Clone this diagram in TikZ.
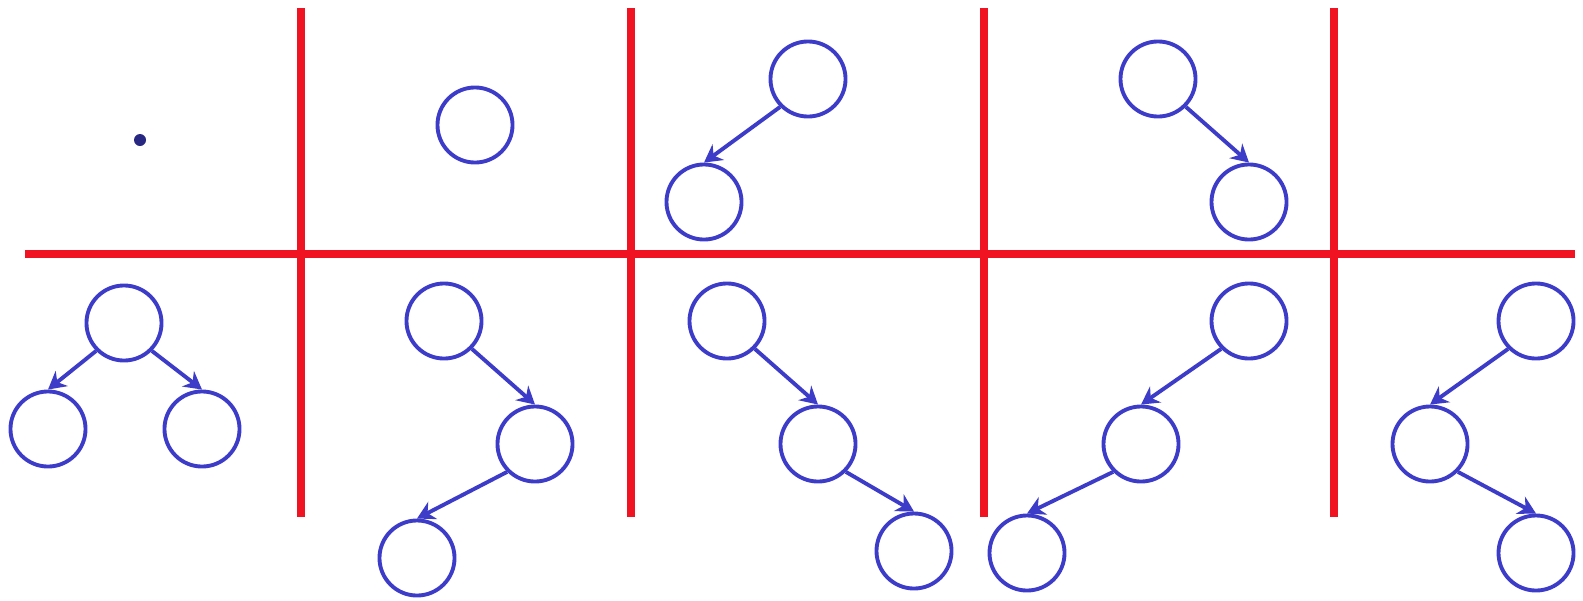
\documentclass[tikz,border=0pt]{standalone}
\usepackage{tikz}
\usetikzlibrary{arrows.meta}
\definecolor{treeblue}{RGB}{60,60,200}
\definecolor{gridred}{RGB}{240,20,35}
\definecolor{dotnavy}{RGB}{40,40,130}

\begin{document}
\begin{tikzpicture}[x=0.01cm,y=-0.01cm,
    vert/.style={circle,draw=treeblue,line width=1.1pt,minimum size=0.75cm,inner sep=0pt},
    edge/.style={-{Stealth[length=5pt,width=5.5pt]},treeblue,line width=1.1pt},
    sep/.style={gridred,line width=2.3pt}]
  \useasboundingbox (0,0) rectangle (1583,600);
  % Separating lines
  \draw[sep] (25,254) -- (1575,254);
  \foreach \x in {301,631,984,1334}
    \draw[sep] (\x,8) -- (\x,517);
  % Empty tree
  \fill[dotnavy] (140,140) circle (6);
  % One node
  \node[vert] (a1) at (475,125) {};
  % Two nodes, left child
  \node[vert] (b1) at (808,79) {};
  \node[vert] (b2) at (704,202) {};
  \draw[edge] (b1.south west) -- (b2.north);
  % Two nodes, right child
  \node[vert] (c1) at (1158,79) {};
  \node[vert] (c2) at (1249,202) {};
  \draw[edge] (c1.south east) -- (c2.north);
  % Three nodes, balanced
  \node[vert] (d1) at (124,323) {};
  \node[vert] (d2) at (48,429) {};
  \node[vert] (d3) at (202,429) {};
  \draw[edge] (d1.south west) -- (d2.north);
  \draw[edge] (d1.south east) -- (d3.north);
  % Right then left
  \node[vert] (e1) at (444,321) {};
  \node[vert] (e2) at (535,444) {};
  \node[vert] (e3) at (417,558) {};
  \draw[edge] (e1.south east) -- (e2.north);
  \draw[edge] (e2.south west) -- (e3.north);
  % Right then right
  \node[vert] (f1) at (727,321) {};
  \node[vert] (f2) at (818,444) {};
  \node[vert] (f3) at (914,551) {};
  \draw[edge] (f1.south east) -- (f2.north);
  \draw[edge] (f2.south east) -- (f3.north);
  % Left then left
  \node[vert] (g1) at (1249,321) {};
  \node[vert] (g2) at (1141,444) {};
  \node[vert] (g3) at (1027,553) {};
  \draw[edge] (g1.south west) -- (g2.north);
  \draw[edge] (g2.south west) -- (g3.north);
  % Left then right
  \node[vert] (h1) at (1536,321) {};
  \node[vert] (h2) at (1430,444) {};
  \node[vert] (h3) at (1536,553) {};
  \draw[edge] (h1.south west) -- (h2.north);
  \draw[edge] (h2.south east) -- (h3.north);
\end{tikzpicture}
\end{document}
